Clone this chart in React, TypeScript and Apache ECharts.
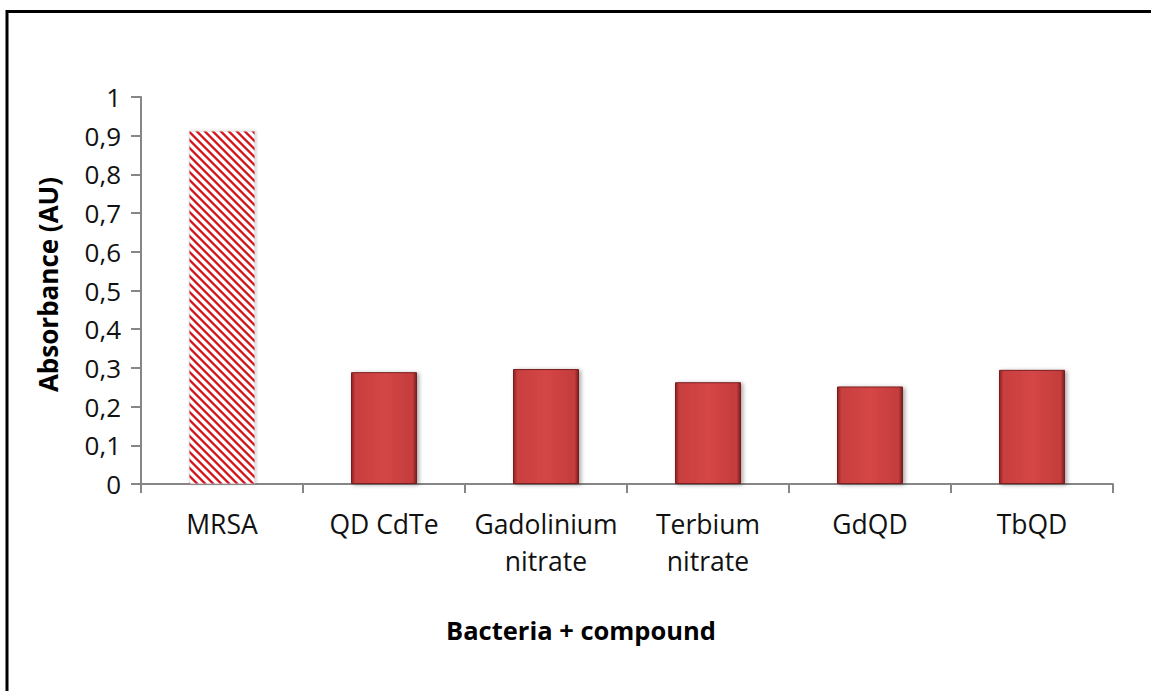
import React, { useEffect, useRef } from "react";
import * as echarts from "echarts";

const categories = ["MRSA", "QD CdTe", "Gadolinium\nnitrate", "Terbium\nnitrate", "GdQD", "TbQD"];
const absorbance = [0.912, 0.289, 0.297, 0.263, 0.252, 0.295];
const yTitle = "Absorbance (AU)";
const xTitle = "Bacteria + compound";

const FONT = "'Open Sans', sans-serif";

function stripeCanvas(): HTMLCanvasElement {
  const n = 8;
  const w = 3.2;
  const c = document.createElement("canvas");
  c.width = n;
  c.height = n;
  const ctx = c.getContext("2d")!;
  const img = ctx.createImageData(n, n);
  for (let y = 0; y < n; y++) {
    for (let x = 0; x < n; x++) {
      // coverage of "\" stripes: lines where x - y = const
      let cov = 0;
      for (let sy = 0; sy < 4; sy++) {
        for (let sx = 0; sx < 4; sx++) {
          const px = x + (sx + 0.5) / 4;
          const py = y + (sy + 0.5) / 4;
          const d = (((px - py) % n) + n) % n;
          if (d < w) cov++;
        }
      }
      const a = cov / 16;
      const i = (y * n + x) * 4;
      img.data[i] = Math.round(255 * (1 - a) + 212 * a);
      img.data[i + 1] = Math.round(255 * (1 - a) + 20 * a);
      img.data[i + 2] = Math.round(255 * (1 - a) + 28 * a);
      img.data[i + 3] = 255;
    }
  }
  ctx.putImageData(img, 0, 0);
  return c;
}

export default function App() {
  const ref = useRef<HTMLDivElement>(null);
  useEffect(() => {
    if (!ref.current) return;
    const chart = echarts.init(ref.current, null, { renderer: "svg" });
    const solid = {
      color: new echarts.graphic.LinearGradient(0, 0, 1, 0, [
        { offset: 0, color: "#8e2525" },
        { offset: 0.06, color: "#c83f3f" },
        { offset: 0.5, color: "#d54646" },
        { offset: 0.94, color: "#c43c3c" },
        { offset: 1, color: "#7c1d1d" },
      ]),
      borderColor: "#7a1f1f",
      borderWidth: 1,
      shadowBlur: 4,
      shadowColor: "rgba(0,0,0,0.35)",
      shadowOffsetX: 2,
      shadowOffsetY: 1,
    };
    const pattern = { image: stripeCanvas(), repeat: "repeat" };
    const data = absorbance.map((v, i) =>
      i === 0
        ? {
            value: v,
            itemStyle: {
              color: pattern,
              borderColor: "#c8c8c8",
              borderWidth: 0.5,
              shadowBlur: 3,
              shadowColor: "rgba(0,0,0,0.25)",
              shadowOffsetX: 1,
            },
          }
        : { value: v, itemStyle: solid }
    );
    chart.setOption({
      animation: false,
      backgroundColor: "#ffffff",
      graphic: [
        {
          type: "rect",
          shape: { x: 7, y: 11.5, width: 1200, height: 720 },
          style: { fill: "none", stroke: "#000", lineWidth: 3 },
          silent: true,
        },
      ],
      grid: { left: 141, top: 97, right: 38, bottom: 207, containLabel: false },
      xAxis: {
        type: "category",
        data: categories,
        axisLine: { lineStyle: { color: "#868686", width: 2 } },
        axisTick: { show: true, length: 9, lineStyle: { color: "#868686", width: 2 } },
        axisLabel: {
          color: "#111",
          fontFamily: FONT,
          fontSize: 26.5,
          lineHeight: 37,
          margin: 21,
          interval: 0,
        },
        name: xTitle,
        nameLocation: "middle",
        nameGap: 133,
        nameTextStyle: {
          color: "#000",
          fontFamily: FONT,
          fontSize: 25.5,
          fontWeight: "bold",
          padding: [0, 92, 0, 0],
        },
      },
      yAxis: {
        type: "value",
        min: 0,
        max: 1,
        interval: 0.1,
        splitLine: { show: false },
        axisLine: { show: true, lineStyle: { color: "#868686", width: 2 } },
        axisTick: { show: true, length: 10, lineStyle: { color: "#868686", width: 2 } },
        axisLabel: {
          color: "#111",
          fontFamily: FONT,
          fontSize: 26,
          margin: 20,
          formatter: (v: number) => String(Math.round(v * 10) / 10).replace(".", ","),
        },
        name: yTitle,
        nameLocation: "middle",
        nameGap: 80,
        nameTextStyle: {
          color: "#000",
          fontFamily: FONT,
          fontSize: 26,
          fontWeight: "bold",
          padding: [0, 0, 0, 12],
        },
      },
      series: [
        {
          type: "bar",
          data,
          barWidth: 66,
        },
      ],
    });
    return () => chart.dispose();
  }, []);
  return (
    <div
      ref={ref}
      style={{ position: "fixed", left: 0, top: 0, width: 1151, height: 691 }}
    />
  );
}
